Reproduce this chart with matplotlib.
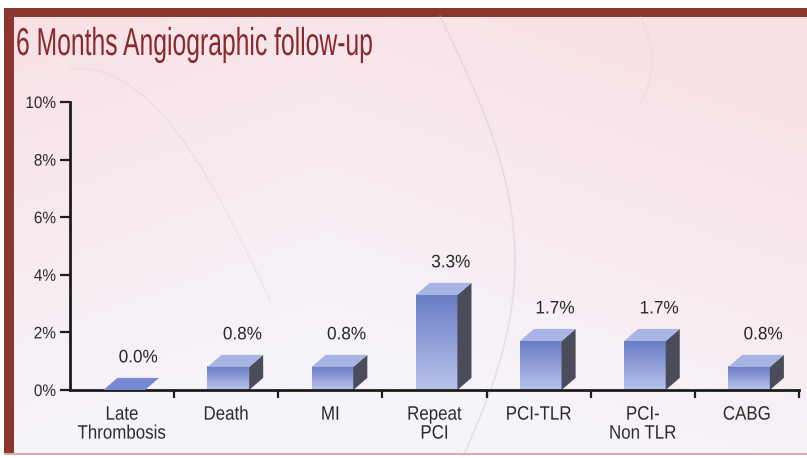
import numpy as np
import matplotlib.pyplot as plt
from matplotlib.patches import Polygon, Rectangle
from matplotlib.colors import LinearSegmentedColormap
from matplotlib.patheffects import AbstractPathEffect
from matplotlib.transforms import Affine2D

plt.rcParams["font.family"] = ["Liberation Sans", "DejaVu Sans"]

categories = ["Late\nThrombosis", "Death", "MI", "Repeat\nPCI", "PCI-TLR", "PCI-\nNon TLR", "CABG"]
rates = [0.0, 0.8, 0.8, 3.3, 1.7, 1.7, 0.8]
rate_labels = ["0.0%", "0.8%", "0.8%", "3.3%", "1.7%", "1.7%", "0.8%"]
y_ticks = [0, 2, 4, 6, 8, 10]
y_tick_labels = ["0%", "2%", "4%", "6%", "8%", "10%"]


class Condensed(AbstractPathEffect):
    """Squeeze glyphs horizontally, like a narrow typeface."""

    def __init__(self, sx=0.7, anchor="center"):
        super().__init__()
        self.sx = sx
        self.anchor = anchor

    def draw_path(self, renderer, gc, tpath, affine, rgbFace=None):
        ext = tpath.get_extents()
        if self.anchor == "left":
            cx = 0.0
        elif self.anchor == "right":
            cx = ext.x1
        else:
            cx = (ext.x0 + ext.x1) / 2
        squeeze = Affine2D().translate(-cx, 0).scale(self.sx, 1).translate(cx, 0)
        renderer.draw_path(gc, tpath, squeeze + affine, rgbFace)


W, H = 807, 458
fig = plt.figure(figsize=(W / 100, H / 100), dpi=100)
fig.patch.set_facecolor("white")

# slide background: pink wash with the dark red frame on top and left
bg = fig.add_axes([0, 0, 1, 1], zorder=0)
bg.set_xlim(0, W)
bg.set_ylim(H, 0)
bg.axis("off")
yy, xx = np.mgrid[0:1:200j, 0:1:300j]
pink = np.array([249, 224, 228]) / 255
pale = np.array([246, 244, 250]) / 255
w = np.clip(1.0 * yy + 0.4 * (1 - np.abs(xx - 0.4) * 1.6) - 0.15, 0, 1)[..., None]
wash = pink * (1 - w) + pale * w
bg.imshow(wash, extent=(4, W, 455, 8), aspect="auto", interpolation="bilinear")

# faint decorative swirls
t = np.linspace(0, 1, 200)
bg.plot(440 + 75 * np.sin(np.pi * t * 0.9), 16 + 440 * t, color="#cdc6d0", lw=1.1, alpha=0.45)
bg.plot(70 + 200 * t, 70 + 230 * t ** 1.3 - 40 * np.sin(np.pi * t), color="#d2cad2", lw=1.1, alpha=0.3)
bg.plot(640 + 12 * np.sin(np.pi * t), 16 + 90 * t, color="#dccfd4", lw=1.0, alpha=0.35)

frame = "#8c3632"
bg.add_patch(Rectangle((4, 8), W - 4, 8.5, color=frame, lw=0))
bg.add_patch(Rectangle((4, 8), 9.5, 447, color=frame, lw=0))
bg.add_patch(Rectangle((4, 453), W - 4, 2, color="#d9a8a8", lw=0))

fig.text(16 / W, 1 - 55 / H, "6 Months Angiographic follow-up",
         fontsize=28, color="#872a2d", va="baseline", ha="left",
         path_effects=[Condensed(0.635, "left")])

ax = fig.add_axes([70 / W, (H - 390) / H, (799 - 70) / W, (390 - 102) / H], zorder=1)
ax.patch.set_alpha(0)

front_cmap = LinearSegmentedColormap.from_list("front", ["#b8c3ec", "#6a7dc6"])
grad = np.linspace(0, 1, 64)[:, None]
bar_w, shift = 0.40, 0.02
dx, dy = 0.135, 0.42

for i, (v, lab) in enumerate(zip(rates, rate_labels)):
    x0 = i + 0.5 - bar_w / 2 + shift
    x1 = x0 + bar_w
    if v > 0:
        ax.imshow(grad, extent=(x0, x1, 0, v), origin="lower", aspect="auto",
                  cmap=front_cmap, interpolation="bilinear", zorder=2)
        ax.add_patch(Polygon([(x1, 0), (x1 + dx, dy), (x1 + dx, v + dy), (x1, v)],
                             closed=True, color="#4a4c5a", lw=0, zorder=2))
        top_color = "#a8b5e4"
    else:
        top_color = "#7789cf"
    ax.add_patch(Polygon([(x0, v), (x1, v), (x1 + dx, v + dy), (x0 + dx, v + dy)],
                         closed=True, color=top_color, lw=0, zorder=3))
    ax.text(x0 + bar_w / 2 + dx, v + dy + 0.4, lab, ha="center", va="bottom",
            fontsize=13, color="#262626", path_effects=[Condensed(0.95)])

ax.set_xlim(0, 7)
ax.set_ylim(0, 10)
for side in ("top", "right"):
    ax.spines[side].set_visible(False)
for side in ("left", "bottom"):
    ax.spines[side].set_linewidth(2)
    ax.spines[side].set_color("#1c1c1c")

ax.set_yticks(y_ticks, y_tick_labels)
ax.set_xticks(np.arange(1, 8), [""] * 7)
ax.set_xticks(np.arange(7) + 0.5, categories, minor=True)
ax.tick_params(axis="y", direction="out", length=7, width=1.6, color="#1c1c1c",
               labelsize=12, labelcolor="#2b2b2b", pad=3)
ax.tick_params(axis="x", which="major", direction="out", length=6, width=1.6,
               color="#1c1c1c")
ax.tick_params(axis="x", which="minor", length=0, labelsize=14,
               labelcolor="#2b2b2b", pad=12)
for tl in ax.get_xticklabels(minor=True):
    tl.set_linespacing(1.15)
    tl.set_path_effects([Condensed(0.87)])
for tl in ax.get_yticklabels():
    tl.set_path_effects([Condensed(0.92, "right")])

fig.savefig("out.png", dpi=100)
